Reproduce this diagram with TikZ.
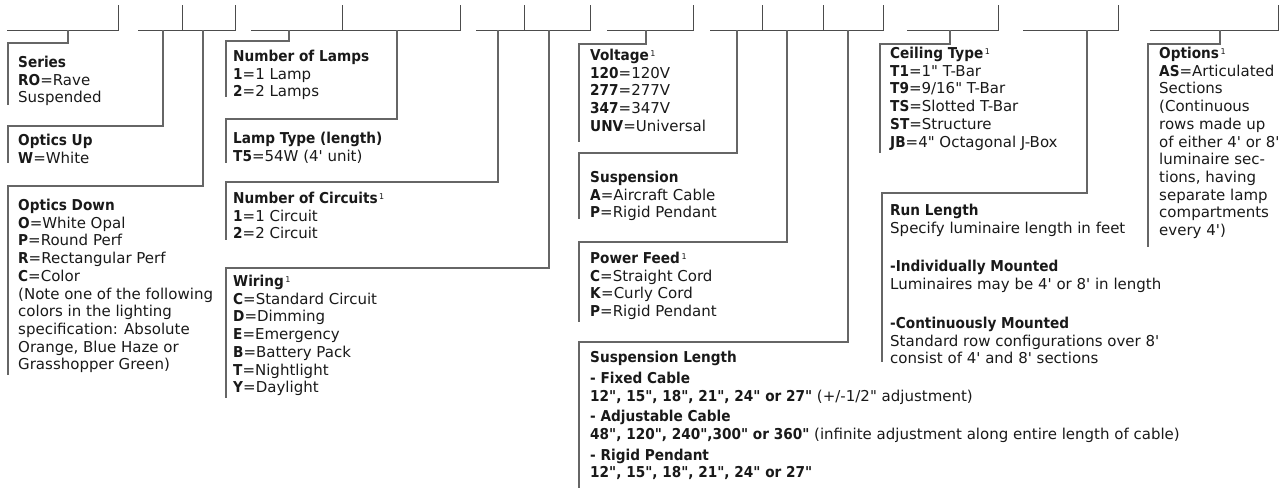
\documentclass[tikz,border=0pt]{standalone}
\usepackage{fontspec}
\newfontfamily\formfont{DejaVu Sans}[BoldFeatures={FakeStretch=0.91}]
\newcommand\fnote{\kern1.5pt{\fontsize{8}{8}\selectfont\raisebox{4.5pt}{1}}}

\begin{document}
\begin{tikzpicture}[
    x=1pt, y=-1pt,
    slot/.style={draw=black!70, line width=1pt},
    leader/.style={draw=black!60, line width=1.1pt},
    field/.style={anchor=north west, inner sep=0pt, align=left, text=black!90, font=\formfont\fontsize{15}{17.7}\selectfont}
]
\useasboundingbox (0,0) rectangle (1281,488);

% Catalogue number slots
\draw[slot] (7,30) -- (118,30) -- (118,5);
\draw[slot] (138,30) -- (235,30) -- (235,5) (182,30) -- (182,5);
\draw[slot] (251,30) -- (460,30) -- (460,5) (342,30) -- (342,5);
\draw[slot] (476,30) -- (590,30) -- (590,5) (524,30) -- (524,5);
\draw[slot] (607,30) -- (693,30) -- (693,5);
\draw[slot] (710,30) -- (883,30) -- (883,5) (762,30) -- (762,5) (823,30) -- (823,5);
\draw[slot] (907,30) -- (998,30) -- (998,5);
\draw[slot] (1023,30) -- (1118,30) -- (1118,5);
\draw[slot] (1150,30) -- (1278,30) -- (1278,5);

% Tap points
\coordinate (t_series) at (68,30);
\coordinate (t_optup) at (163,30);
\coordinate (t_optdown) at (203,30);
\coordinate (t_lamps) at (289,30);
\coordinate (t_lamptype) at (397,30);
\coordinate (t_circuits) at (498,30);
\coordinate (t_wiring) at (549,30);
\coordinate (t_voltage) at (646,30);
\coordinate (t_susp) at (737,30);
\coordinate (t_feed) at (787,30);
\coordinate (t_susplen) at (848,30);
\coordinate (t_ceiling) at (950,30);
\coordinate (t_runlen) at (1087,30);
\coordinate (t_options) at (1220,30);

% Leaders
\draw[leader] (t_series) |- (8,43) -- (8,105);
\draw[leader] (t_optup) |- (8,126) -- (8,163);
\draw[leader] (t_optdown) |- (8,186) -- (8,375);
\draw[leader] (t_lamps) |- (226,41) -- (226,97);
\draw[leader] (t_lamptype) |- (226,119) -- (226,163);
\draw[leader] (t_circuits) |- (226,182) -- (226,240);
\draw[leader] (t_wiring) |- (226,268) -- (226,398);
\draw[leader] (t_voltage) |- (579,44) -- (579,142);
\draw[leader] (t_susp) |- (579,153) -- (579,219);
\draw[leader] (t_feed) |- (579,242) -- (579,322);
\draw[leader] (t_susplen) |- (579,342) -- (579,488);
\draw[leader] (t_ceiling) |- (880,44) -- (880,153);
\draw[leader] (t_runlen) |- (882,193) -- (882,362);
\draw[leader] (t_options) |- (1148,44) -- (1148,247);

% Fields
\node[field] (series) at (18,55) {\strut\textbf{Series}\\\textbf{RO}=Rave\\Suspended};
\node[field] (optup) at (18,133) {\strut\textbf{Optics Up}\\\textbf{W}=White};
\node[field] (optdown) at (18,198) {\strut\textbf{Optics Down}\\\textbf{O}=White Opal\\\textbf{P}=Round Perf\\\textbf{R}=Rectangular Perf\\\textbf{C}=Color\\(Note one of the following\\colors in the lighting\\specification: Absolute\\Orange, Blue Haze or\\Grasshopper Green)};
\node[field] (lamps) at (233,49) {\strut\textbf{Number of Lamps}\\\textbf{1}=1 Lamp\\\textbf{2}=2 Lamps};
\node[field] (lamptype) at (233,131) {\strut\textbf{Lamp Type (length)}\\\textbf{T5}=54W (4' unit)};
\node[field] (circuits) at (233,191) {\strut\textbf{Number of Circuits}\fnote\\\textbf{1}=1 Circuit\\\textbf{2}=2 Circuit};
\node[field] (wiring) at (233,274) {\strut\textbf{Wiring}\fnote\\\textbf{C}=Standard Circuit\\\textbf{D}=Dimming\\\textbf{E}=Emergency\\\textbf{B}=Battery Pack\\\textbf{T}=Nightlight\\\textbf{Y}=Daylight};
\node[field] (voltage) at (590,48) {\strut\textbf{Voltage}\fnote\\\textbf{120}=120V\\\textbf{277}=277V\\\textbf{347}=347V\\\textbf{UNV}=Universal};
\node[field] (susp) at (590,170) {\strut\textbf{Suspension}\\\textbf{A}=Aircraft Cable\\\textbf{P}=Rigid Pendant};
\node[field] (feed) at (590,251) {\strut\textbf{Power Feed}\fnote\\\textbf{C}=Straight Cord\\\textbf{K}=Curly Cord\\\textbf{P}=Rigid Pendant};
\node[field] (susplen) at (590,350) {\strut\textbf{Suspension Length}\\[3pt]\textbf{- Fixed Cable}\\\textbf{12", 15", 18", 21", 24" or 27"} (+/-1/2" adjustment)\\[3pt]\textbf{- Adjustable Cable}\\\textbf{48", 120", 240",300" or 360"} (infinite adjustment along entire length of cable)\\[3pt]\textbf{- Rigid Pendant}\\\textbf{12", 15", 18", 21", 24" or 27"}};
\node[field] (ceiling) at (890,46) {\strut\textbf{Ceiling Type}\fnote\\\textbf{T1}=1" T-Bar\\\textbf{T9}=9/16" T-Bar\\\textbf{TS}=Slotted T-Bar\\\textbf{ST}=Structure\\\textbf{JB}=4" Octagonal J-Box};
\node[field] (runlen) at (890,203) {\strut\textbf{Run Length}\\Specify luminaire length in feet\\[21pt]\textbf{-Individually Mounted}\\Luminaires may be 4' or 8' in length\\[21pt]\textbf{-Continuously Mounted}\\Standard row configurations over 8'\\consist of 4' and 8' sections};
\node[field] (options) at (1159,46) {\strut\textbf{Options}\fnote\\\textbf{AS}=Articulated\\Sections\\(Continuous\\rows made up\\of either 4' or 8'\\luminaire sec-\\tions, having\\separate lamp\\compartments\\every 4')};

\end{tikzpicture}
\end{document}
